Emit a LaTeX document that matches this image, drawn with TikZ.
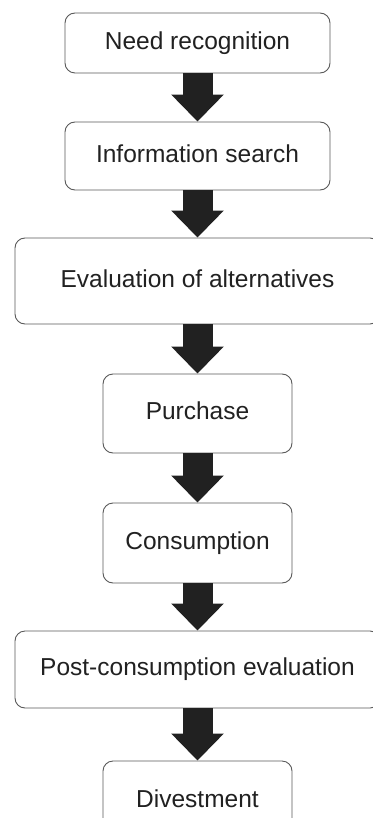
\documentclass[tikz,border=0pt]{standalone}
\usepackage{fontspec}
\setmainfont{Liberation Sans}
\usepackage{tikz}
\usetikzlibrary{arrows.meta,positioning}

\tikzset{
    stage/.style={draw=black!65, line width=0.9pt, rounded corners=10pt, fill=white,
                  text=black!87, align=center, inner sep=0pt,
                  font=\fontsize{24.5}{29}\selectfont, text height=17.5pt, text depth=5pt},
    flow/.style={draw=black!87, line width=30pt,
                 -{Triangle[width=51pt, length=27pt, fill=black!87]}}
}

\begin{document}
\begin{tikzpicture}[x=1pt, y=-1pt]
    \useasboundingbox (0,0) rectangle (372,818);

    % Stages of the process
    \node[stage, minimum width=265pt, minimum height=60pt] (need) at (197.5,43) {Need recognition};
    \node[stage, minimum width=265pt, minimum height=68pt] (search) at (197.5,156) {Information search};
    \node[stage, minimum width=365pt, minimum height=86pt] (evaluation) at (197.5,281) {Evaluation of alternatives};
    \node[stage, minimum width=189pt, minimum height=79pt] (purchase) at (197.5,413.5) {Purchase};
    \node[stage, minimum width=189pt, minimum height=80pt] (consumption) at (197.5,543) {Consumption};
    \node[stage, minimum width=365pt, minimum height=77pt] (postcons) at (197.5,669.5) {Post-consumption evaluation};
    \node[stage, minimum width=189pt, minimum height=80pt] (divestment) at (197.5,801) {Divestment};

    % Block arrows between stages
    \draw[flow] (need) -- (search);
    \draw[flow] (search) -- (evaluation);
    \draw[flow] (evaluation) -- (purchase);
    \draw[flow] (purchase) -- (consumption);
    \draw[flow] (consumption) -- (postcons);
    \draw[flow] (postcons) -- (divestment);
\end{tikzpicture}
\end{document}
